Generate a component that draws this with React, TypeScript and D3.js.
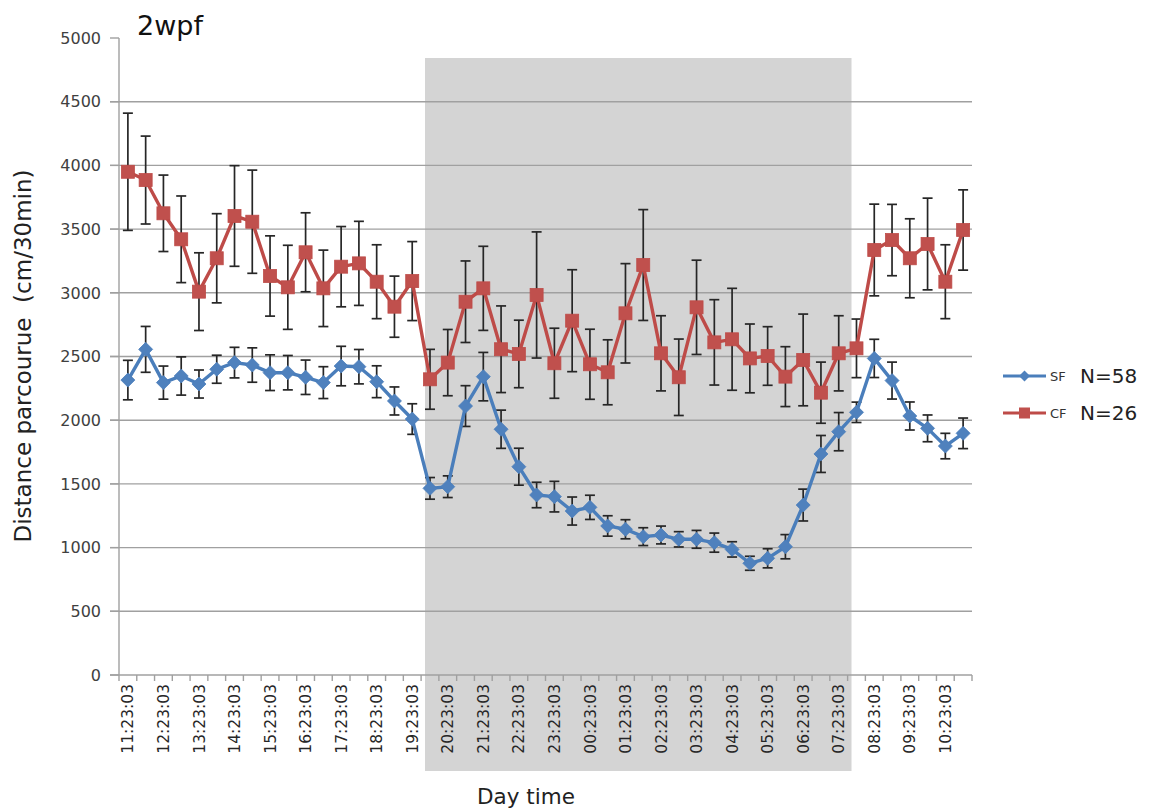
import React from "react";
import * as d3 from "d3";

const times = [
  "11:23:03", "11:53:03", "12:23:03", "12:53:03", "13:23:03", "13:53:03",
  "14:23:03", "14:53:03", "15:23:03", "15:53:03", "16:23:03", "16:53:03",
  "17:23:03", "17:53:03", "18:23:03", "18:53:03", "19:23:03", "19:53:03",
  "20:23:03", "20:53:03", "21:23:03", "21:53:03", "22:23:03", "22:53:03",
  "23:23:03", "23:53:03", "00:23:03", "00:53:03", "01:23:03", "01:53:03",
  "02:23:03", "02:53:03", "03:23:03", "03:53:03", "04:23:03", "04:53:03",
  "05:23:03", "05:53:03", "06:23:03", "06:53:03", "07:23:03", "07:53:03",
  "08:23:03", "08:53:03", "09:23:03", "09:53:03", "10:23:03", "10:53:03",
];

const tickLabels = [
  "11:23:03", "12:23:03", "13:23:03", "14:23:03", "15:23:03", "16:23:03",
  "17:23:03", "18:23:03", "19:23:03", "20:23:03", "21:23:03", "22:23:03",
  "23:23:03", "00:23:03", "01:23:03", "02:23:03", "03:23:03", "04:23:03",
  "05:23:03", "06:23:03", "07:23:03", "08:23:03", "09:23:03", "10:23:03",
];

const sfMean = [
  2315, 2556, 2295, 2347, 2284, 2400, 2452, 2433, 2373, 2373, 2337, 2295,
  2425, 2420, 2302, 2151, 2009, 1465, 1478, 2111, 2342, 1929, 1635, 1413,
  1400, 1287, 1316, 1170, 1144, 1086, 1099, 1065, 1065, 1039, 986, 877,
  916, 1007, 1334, 1735, 1910, 2062, 2485, 2311, 2033, 1936, 1797, 1897,
];
const sfErr = [
  155, 180, 130, 150, 110, 110, 120, 135, 140, 135, 135, 125,
  155, 135, 125, 110, 120, 85, 85, 160, 190, 150, 145, 100,
  120, 110, 95, 80, 75, 70, 70, 60, 70, 75, 60, 55,
  75, 95, 125, 145, 150, 80, 150, 145, 110, 105, 100, 120,
];
const cfMean = [
  3950, 3885, 3624, 3420, 3009, 3271, 3603, 3558, 3132, 3043, 3318, 3035,
  3205, 3231, 3087, 2891, 3092, 2321, 2452, 2930, 3035, 2557, 2520, 2983,
  2447, 2781, 2439, 2376, 2839, 3218, 2525, 2337, 2886, 2611, 2635, 2485,
  2504, 2342, 2473, 2216, 2525, 2564, 3336, 3414, 3271, 3383, 3087, 3493,
];
const cfErr = [
  460, 345, 300, 340, 305, 350, 395, 405, 315, 330, 310, 300,
  315, 330, 290, 240, 310, 235, 260, 320, 330, 340, 265, 495,
  275, 400, 275, 255, 390, 435, 295, 300, 370, 335, 400, 270,
  230, 235, 360, 240, 295, 230, 360, 280, 310, 360, 290, 315,
];

const yTicks = [0, 500, 1000, 1500, 2000, 2500, 3000, 3500, 4000, 4500, 5000];
const nightStart = "19:53:03";
const nightEnd = "07:53:03";

const seriesNames = ["SF", "CF"];
const seriesN = ["N=58", "N=26"];

const W = 1149;
const H = 811;
const FONT = "'DejaVu Sans', 'Liberation Sans', Arial, sans-serif";

export default function App() {
  const left = 119;
  const right = 972;
  const top = 38;
  const bottom = 675;

  const x = d3.scaleBand<string>().domain(times).range([left, right]).padding(0);
  const bw = x.bandwidth();
  const cx = (t: string) => (x(t) as number) + bw / 2;
  const y = d3.scaleLinear().domain([0, 5000]).range([bottom, top]);

  const blueLine = "#4a7ebb";
  const blueFill = "#4f81bd";
  const redLine = "#be4b48";
  const redFill = "#c0504d";
  const gridColor = "#a0a0a0";

  const line = d3
    .line<number>()
    .x((_, i) => cx(times[i]))
    .y((d) => y(d));

  const shadeX0 = (x(nightStart) as number) + bw * 0.22;
  const shadeX1 = (x(nightEnd) as number) + bw * 0.22;

  const diamond = (px: number, py: number, r: number) =>
    `M${px},${py - r}L${px + r},${py}L${px},${py + r}L${px - r},${py}Z`;

  const errBars = (means: number[], errs: number[], key: string) =>
    means.map((m, i) => {
      const px = cx(times[i]);
      const y0 = y(m + errs[i]);
      const y1 = y(m - errs[i]);
      return (
        <g key={key + i} stroke="#262626" strokeWidth={1.7}>
          <line x1={px} x2={px} y1={y0} y2={y1} />
          <line x1={px - 5} x2={px + 5} y1={y0} y2={y0} />
          <line x1={px - 5} x2={px + 5} y1={y1} y2={y1} />
        </g>
      );
    });

  return (
    <svg
      width={W}
      height={H}
      style={{ position: "absolute", left: 0, top: 0, background: "#fff" }}
      fontFamily={FONT}
    >
      <rect x={0} y={0} width={W} height={H} fill="#fff" />
      {/* night shading */}
      <rect x={shadeX0} y={58} width={shadeX1 - shadeX0} height={771 - 58} fill="#d4d4d4" />

      {/* gridlines */}
      {yTicks.filter((v) => v > 0 && v < 5000).map((v) => (
        <line key={"g" + v} x1={left - 9} x2={right} y1={y(v)} y2={y(v)} stroke={gridColor} strokeWidth={1.4} />
      ))}
      {/* y ticks */}
      {yTicks.map((v) => (
        <line key={"yt" + v} x1={left - 9} x2={left} y1={y(v)} y2={y(v)} stroke={gridColor} strokeWidth={1.4} />
      ))}
      {/* axes */}
      <line x1={left} x2={left} y1={top} y2={bottom} stroke={gridColor} strokeWidth={1.4} />
      <line x1={left - 9} x2={right} y1={bottom} y2={bottom} stroke={gridColor} strokeWidth={1.4} />
      {times.map((t) => (
        <line key={"xt" + t} x1={x(t) as number} x2={x(t) as number} y1={bottom} y2={bottom + 6} stroke={gridColor} strokeWidth={1.4} />
      ))}
      <line x1={right} x2={right} y1={bottom} y2={bottom + 6} stroke={gridColor} strokeWidth={1.4} />

      {/* y tick labels */}
      {yTicks.map((v) => (
        <text key={"yl" + v} x={101} y={y(v)} dy="0.36em" textAnchor="end" fontSize={16} fill="#404040">
          {v}
        </text>
      ))}

      {/* x tick labels */}
      {tickLabels.map((t) => (
        <text
          key={"xl" + t}
          transform={`translate(${cx(t)},${bottom + 9}) rotate(-90)`}
          textAnchor="end"
          dy="0.36em"
          fontSize={15.5}
          fill="#262626"
        >
          {t}
        </text>
      ))}

      {/* error bars */}
      {errBars(cfMean, cfErr, "ce")}
      {errBars(sfMean, sfErr, "se")}

      {/* lines */}
      <path d={line(cfMean) as string} fill="none" stroke={redLine} strokeWidth={3.4} strokeLinejoin="round" />
      <path d={line(sfMean) as string} fill="none" stroke={blueLine} strokeWidth={3.4} strokeLinejoin="round" />

      {/* markers */}
      {cfMean.map((m, i) => (
        <rect key={"cm" + i} x={cx(times[i]) - 6.5} y={y(m) - 6.5} width={13} height={13} fill={redFill} stroke={redLine} strokeWidth={0.8} />
      ))}
      {sfMean.map((m, i) => (
        <path key={"sm" + i} d={diamond(cx(times[i]), y(m), 7)} fill={blueFill} stroke={blueLine} strokeWidth={0.8} />
      ))}

      {/* title */}
      <text x={137} y={35} fontSize={27} fill="#111">2wpf</text>

      {/* axis titles */}
      <text transform="translate(31,356) rotate(-90)" textAnchor="middle" fontSize={23} fill="#222" style={{ whiteSpace: "pre" }}>
        {"Distance parcourue  (cm/30min)"}
      </text>
      <text x={526} y={804} textAnchor="middle" fontSize={21.5} fill="#222">Day time</text>

      {/* legend */}
      {seriesNames.map((s, i) => {
        const ly = 376 + i * 37;
        const col = i === 0 ? blueLine : redLine;
        const fill = i === 0 ? blueFill : redFill;
        return (
          <g key={"lg" + s}>
            <line x1={1003} x2={1046} y1={ly} y2={ly} stroke={col} strokeWidth={3} />
            {i === 0 ? (
              <path d={diamond(1024.5, ly, 5.5)} fill={fill} />
            ) : (
              <rect x={1019} y={ly - 5.5} width={11} height={11} fill={fill} />
            )}
            <text x={1050} y={ly} dy="0.36em" fontSize={13} fill="#333">{s}</text>
            <text x={1080} y={ly} dy="0.36em" fontSize={20} fill="#222">{seriesN[i]}</text>
          </g>
        );
      })}
    </svg>
  );
}
